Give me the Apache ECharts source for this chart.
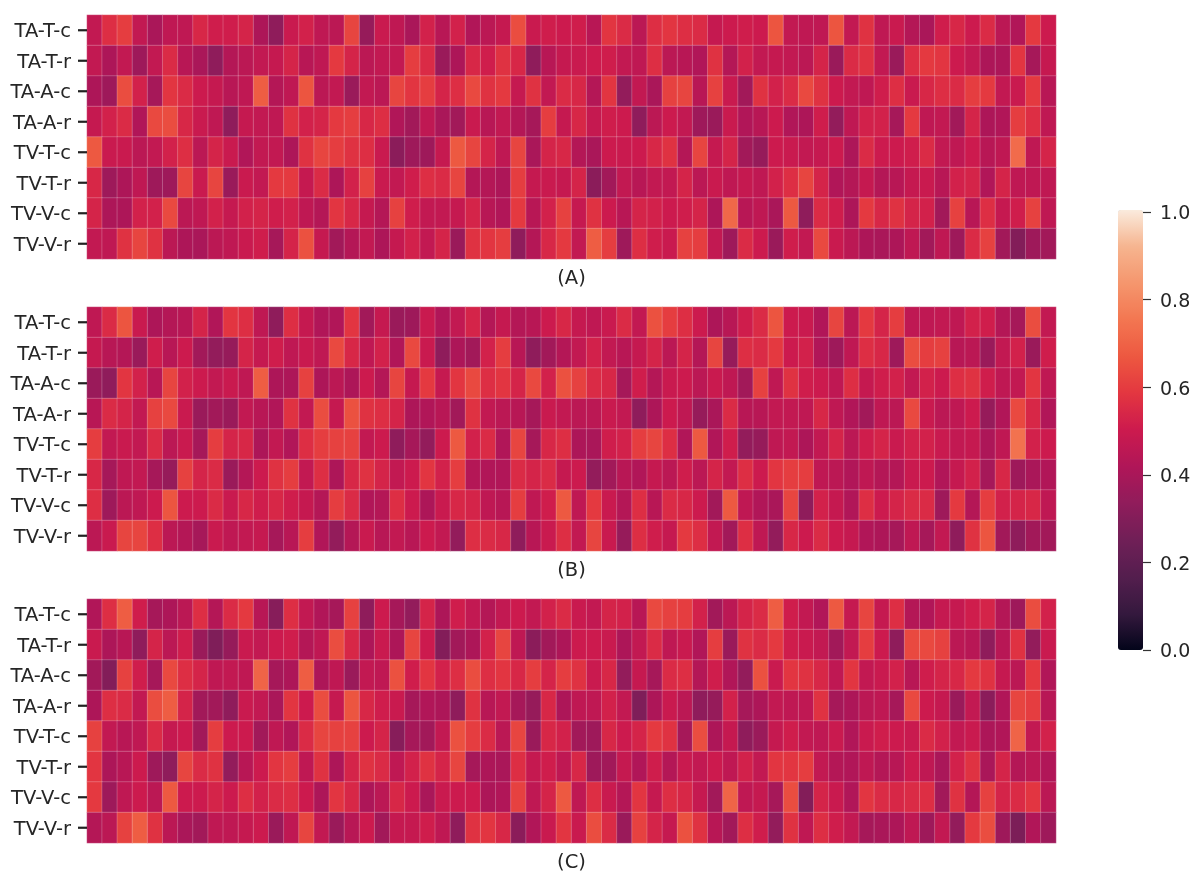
<!DOCTYPE html>
<html><head><meta charset="utf-8">
<script src="https://cdn.jsdelivr.net/npm/echarts@6/dist/echarts.min.js"></script>
<style>html,body{margin:0;padding:0;background:#fff}#c{width:1196px;height:888px;filter:blur(0.45px)}</style></head>
<body><div id="c"></div>
<script>
const rowLabels = ['TA-T-c','TA-T-r','TA-A-c','TA-A-r','TV-T-c','TV-T-r','TV-V-c','TV-V-r'];
const panelLabels = ['(A)','(B)','(C)'];

const panelA = [
[.47,.56,.60,.47,.40,.46,.46,.54,.51,.51,.53,.41,.33,.49,.52,.46,.45,.62,.35,.49,.46,.40,.52,.44,.52,.42,.45,.48,.64,.49,.51,.50,.51,.44,.58,.55,.45,.56,.58,.56,.55,.48,.50,.51,.50,.66,.47,.46,.46,.66,.47,.57,.46,.49,.43,.40,.51,.54,.50,.55,.45,.42,.59,.50],
[.47,.41,.47,.37,.47,.55,.44,.40,.33,.43,.45,.47,.48,.53,.44,.46,.59,.53,.45,.47,.47,.60,.55,.36,.41,.54,.51,.57,.54,.33,.44,.48,.49,.50,.51,.47,.46,.56,.45,.44,.42,.57,.43,.52,.47,.48,.47,.45,.53,.36,.55,.57,.47,.36,.56,.59,.58,.50,.47,.41,.41,.58,.39,.48],
[.41,.37,.64,.52,.39,.58,.55,.50,.48,.44,.46,.68,.43,.46,.66,.45,.47,.36,.47,.45,.62,.58,.60,.53,.56,.63,.57,.59,.48,.57,.47,.55,.54,.43,.58,.34,.47,.40,.61,.62,.44,.61,.49,.38,.57,.52,.55,.63,.57,.50,.47,.46,.51,.56,.49,.54,.56,.55,.60,.59,.47,.49,.59,.44],
[.48,.52,.55,.42,.63,.64,.54,.49,.46,.33,.48,.47,.46,.57,.52,.53,.59,.60,.54,.56,.42,.38,.46,.40,.38,.49,.44,.47,.43,.39,.60,.48,.54,.48,.51,.50,.33,.45,.50,.47,.37,.36,.49,.42,.44,.50,.42,.41,.51,.34,.46,.52,.52,.39,.59,.46,.47,.38,.53,.41,.42,.60,.56,.46],
[.67,.49,.49,.45,.47,.52,.56,.45,.53,.49,.42,.47,.47,.41,.57,.62,.60,.57,.56,.49,.32,.37,.37,.48,.67,.62,.53,.46,.62,.40,.53,.54,.43,.40,.50,.49,.50,.54,.57,.43,.62,.48,.53,.38,.35,.50,.49,.47,.48,.50,.41,.55,.50,.50,.51,.55,.47,.46,.50,.44,.46,.72,.46,.53],
[.54,.37,.41,.46,.37,.37,.62,.49,.62,.36,.49,.47,.59,.59,.48,.55,.41,.52,.61,.49,.47,.51,.56,.55,.62,.43,.43,.41,.60,.48,.49,.48,.53,.32,.38,.47,.44,.47,.47,.53,.45,.49,.46,.48,.46,.52,.56,.62,.53,.42,.43,.48,.43,.44,.48,.49,.44,.52,.53,.42,.53,.46,.46,.46],
[.53,.41,.41,.52,.52,.63,.45,.46,.52,.48,.52,.53,.51,.52,.46,.43,.58,.54,.48,.43,.61,.51,.47,.47,.48,.53,.44,.42,.59,.44,.52,.61,.48,.57,.50,.44,.53,.52,.50,.51,.53,.41,.71,.44,.46,.40,.67,.33,.55,.51,.41,.59,.54,.57,.53,.52,.38,.61,.44,.56,.48,.51,.61,.46],
[.47,.46,.57,.62,.57,.45,.41,.40,.45,.46,.49,.51,.39,.53,.65,.48,.38,.43,.47,.41,.48,.52,.47,.53,.36,.57,.58,.60,.33,.43,.54,.59,.47,.68,.60,.37,.56,.51,.49,.61,.60,.47,.37,.55,.50,.36,.51,.47,.63,.49,.45,.41,.40,.41,.46,.38,.46,.37,.55,.61,.38,.30,.37,.38]
];
const panelB = [
[.46,.55,.66,.49,.41,.43,.44,.53,.42,.58,.56,.46,.33,.56,.48,.42,.42,.58,.38,.48,.36,.37,.49,.42,.47,.53,.43,.48,.43,.44,.50,.54,.48,.46,.49,.55,.47,.65,.60,.56,.50,.41,.44,.51,.55,.66,.50,.49,.42,.62,.45,.59,.53,.60,.46,.46,.47,.46,.52,.51,.43,.39,.64,.47],
[.48,.44,.43,.36,.51,.44,.50,.38,.34,.35,.53,.48,.51,.46,.49,.46,.63,.54,.46,.52,.42,.63,.49,.33,.41,.38,.52,.60,.44,.33,.38,.43,.47,.52,.47,.44,.48,.53,.45,.53,.43,.62,.35,.56,.55,.59,.50,.52,.42,.37,.46,.56,.54,.37,.64,.60,.61,.44,.45,.36,.47,.52,.36,.51],
[.36,.33,.58,.52,.44,.62,.52,.50,.47,.49,.46,.68,.41,.41,.61,.41,.45,.41,.50,.43,.62,.48,.59,.48,.58,.63,.56,.58,.53,.63,.52,.65,.61,.55,.54,.39,.51,.43,.49,.50,.45,.49,.46,.38,.61,.46,.57,.51,.50,.46,.56,.48,.51,.52,.47,.52,.50,.56,.57,.51,.46,.47,.58,.46],
[.44,.55,.53,.47,.61,.63,.49,.36,.38,.36,.47,.44,.42,.57,.47,.64,.48,.65,.57,.56,.53,.41,.42,.44,.38,.57,.47,.45,.44,.39,.49,.47,.45,.45,.49,.47,.33,.41,.50,.46,.35,.40,.55,.44,.44,.47,.47,.46,.54,.46,.42,.38,.46,.45,.63,.49,.45,.46,.50,.35,.42,.63,.54,.42],
[.60,.47,.49,.47,.55,.45,.49,.39,.60,.53,.54,.41,.47,.42,.56,.60,.61,.61,.47,.50,.33,.39,.34,.50,.67,.52,.55,.42,.62,.39,.54,.56,.41,.40,.51,.52,.60,.62,.56,.42,.67,.42,.51,.34,.35,.46,.47,.41,.47,.53,.45,.51,.53,.49,.52,.52,.49,.47,.48,.41,.46,.74,.52,.50],
[.54,.39,.46,.47,.39,.35,.61,.53,.55,.36,.43,.50,.57,.60,.47,.56,.41,.54,.57,.53,.47,.50,.58,.52,.60,.43,.42,.42,.55,.53,.55,.48,.50,.34,.38,.44,.42,.48,.45,.51,.45,.53,.47,.56,.50,.58,.60,.60,.46,.45,.42,.46,.43,.43,.49,.50,.42,.48,.52,.39,.54,.37,.40,.42],
[.56,.37,.45,.46,.50,.66,.50,.50,.55,.49,.54,.51,.54,.51,.48,.43,.60,.55,.42,.43,.56,.50,.41,.49,.54,.53,.46,.44,.60,.46,.51,.67,.46,.59,.49,.43,.56,.44,.55,.54,.50,.38,.67,.46,.42,.40,.62,.33,.52,.48,.42,.56,.50,.53,.55,.55,.37,.59,.43,.60,.52,.53,.54,.46],
[.45,.49,.62,.62,.56,.45,.43,.39,.49,.46,.47,.48,.39,.44,.60,.42,.34,.43,.49,.44,.47,.44,.50,.47,.34,.56,.55,.54,.33,.44,.49,.56,.47,.62,.49,.35,.56,.51,.48,.59,.56,.47,.38,.56,.46,.34,.54,.50,.55,.50,.48,.42,.41,.39,.46,.39,.47,.33,.57,.66,.38,.33,.38,.38]
];
const panelC = [
[.42,.56,.68,.51,.39,.41,.45,.56,.43,.55,.59,.44,.31,.56,.47,.42,.39,.61,.33,.50,.39,.34,.53,.41,.51,.47,.43,.47,.50,.47,.52,.55,.49,.47,.53,.52,.44,.63,.61,.60,.52,.38,.45,.53,.55,.68,.51,.47,.42,.67,.48,.62,.48,.56,.43,.42,.48,.48,.51,.53,.43,.37,.64,.52],
[.49,.41,.44,.33,.53,.45,.51,.36,.29,.35,.49,.47,.50,.51,.43,.46,.64,.54,.41,.49,.41,.62,.50,.30,.38,.41,.52,.62,.46,.32,.38,.41,.50,.50,.49,.41,.47,.55,.46,.49,.42,.60,.36,.57,.55,.59,.51,.49,.47,.38,.47,.60,.50,.33,.63,.63,.61,.45,.44,.33,.44,.57,.34,.49],
[.38,.30,.61,.51,.39,.63,.56,.53,.46,.47,.46,.70,.39,.41,.68,.41,.46,.36,.47,.46,.65,.51,.58,.52,.56,.64,.56,.58,.54,.60,.53,.60,.57,.49,.54,.34,.48,.39,.55,.56,.43,.51,.42,.34,.65,.49,.58,.57,.54,.46,.58,.47,.49,.52,.44,.51,.53,.54,.59,.57,.48,.45,.59,.42],
[.41,.56,.55,.47,.64,.68,.53,.38,.38,.33,.49,.47,.40,.58,.50,.64,.48,.66,.54,.51,.49,.39,.42,.41,.33,.57,.44,.47,.39,.35,.54,.41,.46,.46,.52,.47,.29,.41,.49,.45,.33,.35,.52,.39,.41,.47,.46,.46,.57,.39,.41,.45,.46,.39,.63,.50,.48,.36,.47,.32,.42,.62,.60,.44],
[.61,.47,.44,.46,.55,.48,.50,.38,.60,.50,.50,.38,.46,.42,.55,.62,.61,.61,.50,.53,.31,.39,.38,.47,.65,.60,.55,.45,.62,.36,.54,.52,.38,.37,.54,.50,.53,.59,.57,.39,.64,.41,.48,.33,.36,.48,.51,.47,.46,.49,.42,.49,.51,.50,.49,.55,.52,.47,.49,.41,.42,.70,.47,.52],
[.58,.41,.44,.50,.37,.33,.62,.55,.57,.34,.44,.50,.58,.60,.46,.57,.41,.53,.57,.55,.46,.52,.57,.53,.62,.39,.41,.40,.56,.48,.51,.46,.54,.37,.38,.48,.42,.51,.43,.49,.47,.50,.46,.52,.47,.58,.58,.60,.47,.43,.42,.46,.43,.44,.50,.46,.40,.52,.57,.40,.53,.43,.45,.42],
[.59,.37,.46,.50,.45,.67,.50,.50,.53,.50,.56,.52,.55,.56,.50,.41,.58,.54,.41,.45,.54,.50,.40,.49,.50,.50,.41,.42,.61,.46,.53,.67,.46,.56,.49,.43,.58,.48,.56,.54,.48,.38,.70,.46,.48,.39,.64,.30,.53,.49,.42,.58,.55,.54,.55,.56,.38,.57,.43,.61,.53,.55,.58,.45],
[.43,.45,.61,.68,.57,.45,.40,.38,.46,.46,.48,.50,.36,.46,.62,.47,.36,.44,.50,.38,.48,.48,.51,.46,.33,.57,.58,.54,.32,.42,.49,.58,.49,.64,.55,.36,.61,.53,.48,.65,.57,.44,.38,.56,.51,.34,.57,.46,.56,.51,.47,.39,.40,.41,.46,.37,.47,.34,.59,.64,.37,.28,.42,.37]
];
const panels = [panelA, panelB, panelC];
const rocket = ['#03051a','#35193e','#541e4e','#701f57','#901c5b','#b01658','#cc1a4e','#e33640','#ed5840','#f37651','#f5966d','#f6b48f','#faebdd'];

const columns = panelA[0].map((_, i) => String(i));
const rowPositions = rowLabels.map((_, i) => i + 0.5);
const font = {fontFamily:'DejaVu Sans', fontSize:19.5, color:'#262626'};
const tops = [15, 307, 599];

const grids = tops.map(t => ({left:87, width:969, top:t, height:244}));
grids.push({left:1118, width:25, top:212, height:438});
tops.forEach(t => grids.push({left:78, width:9, top:t, height:244}));   // tick strips

const xAxes = panels.map((p,i) => ({
  type:'category', gridIndex:i, data:columns, position:'bottom',
  axisLine:{show:false}, axisTick:{show:false}, axisLabel:{show:false}, splitLine:{show:false},
  name:panelLabels[i], nameLocation:'middle', nameGap:10,
  nameTextStyle:{...font}
}));
xAxes.push({type:'value', gridIndex:3, min:0, max:1, show:false});
panels.forEach((p,i) => xAxes.push({type:'value', gridIndex:4+i, min:0, max:1, show:false}));

// hidden band axes that place the heatmap rows
const yAxes = panels.map((p,i) => ({
  type:'category', gridIndex:i, data:rowLabels, inverse:true, show:false
}));
// colour bar scale
yAxes.push({
  type:'value', gridIndex:3, min:0, max:1, interval:0.2, position:'right',
  axisLine:{show:false, onZero:false}, splitLine:{show:false},
  axisTick:{show:true, length:8, lineStyle:{color:'#333', width:1.2}},
  axisLabel:{...font, fontSize:19, margin:17, verticalAlign:'top', padding:[-7,0,0,0], formatter:v => v.toFixed(1)}
});
// visible row label axes (value 7.5 is the top row)
panels.forEach((p,i) => yAxes.push({
  type:'value', gridIndex:i, min:0, max:8, position:'left',
  axisLine:{show:false, onZero:false}, splitLine:{show:false}, axisTick:{show:false},
  axisLabel:{...font, margin:16, customValues:rowPositions, verticalAlign:'top', padding:[-8,0,0,0],
             formatter:v => rowLabels[7.5 - v]}
}));
// scales of the tick strips
panels.forEach((p,i) => yAxes.push({type:'value', gridIndex:4+i, min:0, max:8, show:false}));

const series = panels.map((p,i) => ({
  type:'heatmap', xAxisIndex:i, yAxisIndex:i, animation:false,
  data:p.flatMap((row,r) => row.map((v,c) => [c,r,v])),
  itemStyle:{borderColor:'rgba(255,255,255,0.22)', borderWidth:1},
  emphasis:{disabled:true}, progressive:0
}));
panels.forEach((p,i) => series.push({
  type:'scatter', xAxisIndex:4+i, yAxisIndex:7+i, silent:true, animation:false,
  symbol:'rect', symbolSize:[9,2.2], clip:false, z:100, zlevel:2,
  itemStyle:{color:'#222', opacity:1},
  data:rowPositions.map(y => [0.5,y])
}));

const chart = echarts.init(document.getElementById('c'), null, {renderer:'canvas'});
chart.setOption({
  animation:false, backgroundColor:'#fff',
  grid:grids, xAxis:xAxes, yAxis:yAxes, series,
  visualMap:{
    type:'continuous', min:0, max:1, seriesIndex:[0,1,2], calculable:false, realtime:false,
    left:1118, top:210, itemWidth:25, itemHeight:440, orient:'vertical', text:null, padding:0,
    inRange:{color:rocket}, textStyle:{color:'transparent', fontSize:1}
  }
});
</script></body></html>
